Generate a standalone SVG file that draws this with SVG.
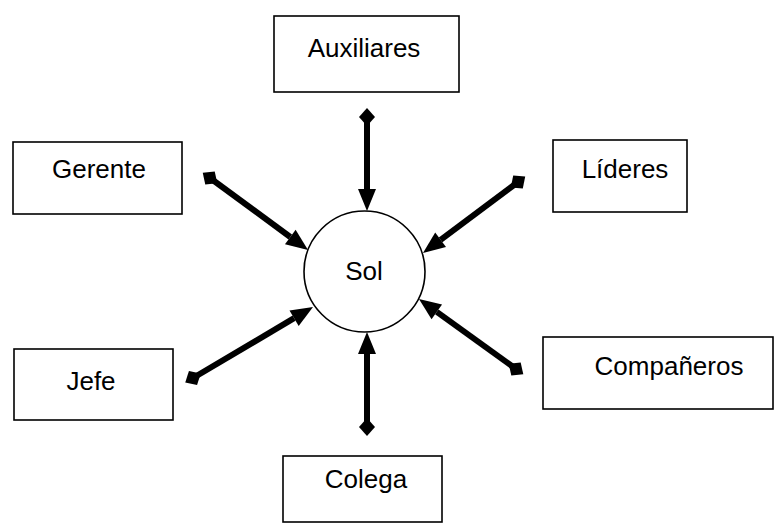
<svg xmlns="http://www.w3.org/2000/svg" width="774" height="523" viewBox="0 0 774 523">
  <style>
    .box { fill: #fff; stroke: #000; stroke-width: 1.6; }
    .hub { fill: #fff; stroke: #000; stroke-width: 1.6; }
    .label { font-family: "Liberation Sans", Arial, sans-serif; font-size: 26px; fill: #000; text-anchor: middle; }
    .link { stroke: #000; stroke-width: 6; fill: none; marker-start: url(#diamond); marker-end: url(#head); }
  </style>
  <defs>
    <marker id="head" markerUnits="userSpaceOnUse" orient="auto" refX="0" refY="0" markerWidth="30" markerHeight="30" overflow="visible">
      <path d="M0,-9 L22,0 L0,9 Z" fill="#000"/>
    </marker>
    <marker id="diamond" markerUnits="userSpaceOnUse" orient="auto" refX="0" refY="0" markerWidth="30" markerHeight="30" overflow="visible">
      <path d="M-9,0 L0,-8 L9,0 L0,8 Z" fill="#000"/>
    </marker>
  </defs>
  <rect width="774" height="523" fill="#fff"/>

  <g id="connectors">
    <line class="link" x1="367" y1="117" x2="367" y2="189"/>
    <line class="link" x1="367" y1="427" x2="367" y2="354"/>
    <line class="link" x1="210" y1="178" x2="290.3" y2="237"/>
    <line class="link" x1="518" y1="182" x2="440.6" y2="239.8"/>
    <line class="link" x1="193" y1="378" x2="294.1" y2="318.2"/>
    <line class="link" x1="516" y1="369" x2="436.8" y2="311.9"/>
  </g>

  <g id="sol">
    <circle class="hub" cx="364.5" cy="271.5" r="60.5"/>
    <text class="label" x="364" y="280">Sol</text>
  </g>
  <g id="auxiliares">
    <rect class="box" x="274" y="16" width="185" height="76"/>
    <text class="label" x="364" y="57">Auxiliares</text>
  </g>
  <g id="gerente">
    <rect class="box" x="13" y="142" width="169" height="72"/>
    <text class="label" x="99" y="178">Gerente</text>
  </g>
  <g id="lideres">
    <rect class="box" x="553" y="140" width="134" height="72"/>
    <text class="label" x="625" y="178">Líderes</text>
  </g>
  <g id="jefe">
    <rect class="box" x="14" y="349" width="159" height="71"/>
    <text class="label" x="91" y="390">Jefe</text>
  </g>
  <g id="companeros">
    <rect class="box" x="543" y="337" width="230" height="72"/>
    <text class="label" x="669" y="375">Compañeros</text>
  </g>
  <g id="colega">
    <rect class="box" x="283" y="456" width="159" height="66"/>
    <text class="label" x="366" y="488">Colega</text>
  </g>
</svg>
